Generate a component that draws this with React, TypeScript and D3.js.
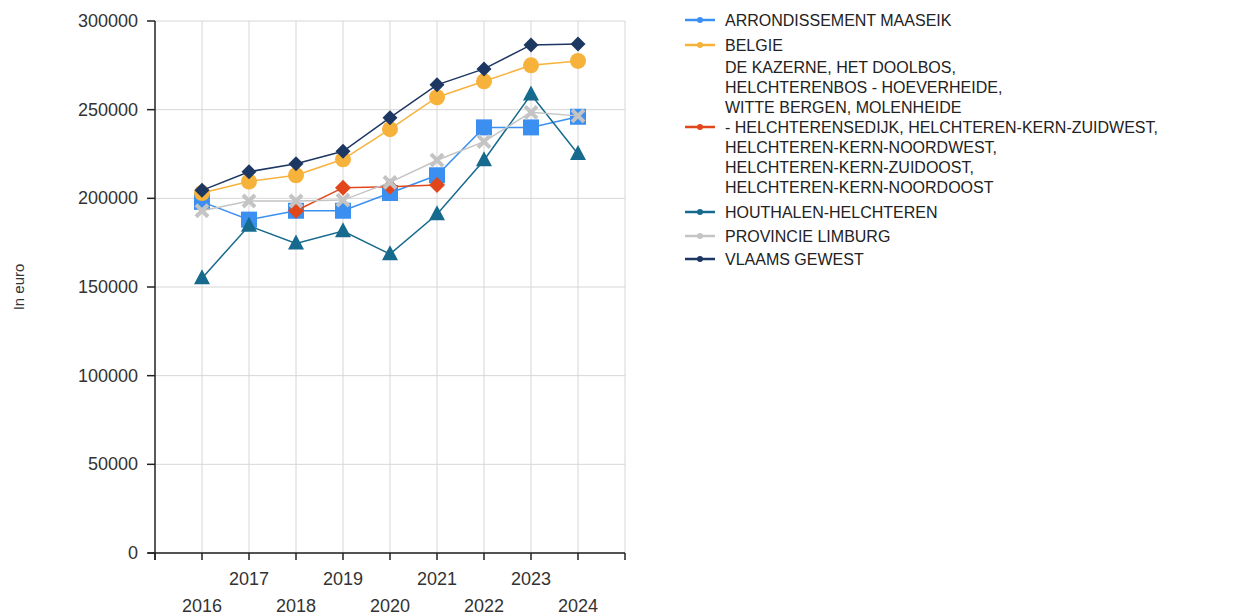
import React from "react";
import * as d3 from "d3";

const years = [2016, 2017, 2018, 2019, 2020, 2021, 2022, 2023, 2024];
const yTicks = [0, 50000, 100000, 150000, 200000, 250000, 300000];

const maaseik = [198000, 188000, 193000, 193000, 203000, 213000, 240000, 240000, 246000];
const belgie = [203000, 209500, 213000, 222000, 239000, 257000, 266000, 275000, 277500];
const wijken = [null, null, 193000, 206000, 206500, 207500, null, null, null];
const houthalen = [155000, 184500, 174500, 181500, 168500, 191000, 221500, 258500, 225000];
const limburg = [193000, 198500, 198500, 199000, 209000, 221500, 232000, 248500, 246500];
const vlaams = [204500, 215000, 219500, 226500, 245500, 264000, 273000, 286500, 287000];

const wijkenName = [
  "DE KAZERNE, HET DOOLBOS,",
  "HELCHTERENBOS - HOEVERHEIDE,",
  "WITTE BERGEN, MOLENHEIDE",
  "- HELCHTERENSEDIJK, HELCHTEREN-KERN-ZUIDWEST,",
  "HELCHTEREN-KERN-NOORDWEST,",
  "HELCHTEREN-KERN-ZUIDOOST,",
  "HELCHTEREN-KERN-NOORDOOST",
];

type Series = { name: string[]; values: (number | null)[]; color: string; marker: string; lineWidth: number };

const series: Series[] = [
  { name: ["ARRONDISSEMENT MAASEIK"], values: maaseik, color: "#3a8ff0", marker: "square", lineWidth: 1.5 },
  { name: ["BELGIE"], values: belgie, color: "#f7b23b", marker: "circle", lineWidth: 1.5 },
  { name: wijkenName, values: wijken, color: "#e2471b", marker: "diamond", lineWidth: 1.5 },
  { name: ["HOUTHALEN-HELCHTEREN"], values: houthalen, color: "#166a8e", marker: "triangle", lineWidth: 1.5 },
  { name: ["PROVINCIE LIMBURG"], values: limburg, color: "#c4c4c4", marker: "cross", lineWidth: 1.5 },
  { name: ["VLAAMS GEWEST"], values: vlaams, color: "#1d3763", marker: "diamondSmall", lineWidth: 1.5 },
];

const legendGaps = [25, 22, 25, 24, 23];

const FONT = "'Liberation Sans', Arial, sans-serif";

function Marker({ kind, x, y, color }: { kind: string; x: number; y: number; color: string }) {
  switch (kind) {
    case "square":
      return <rect x={x - 8} y={y - 8} width={16} height={16} fill={color} />;
    case "circle":
      return <circle cx={x} cy={y} r={8} fill={color} />;
    case "diamond":
      return <path d={`M${x},${y - 8}L${x + 8},${y}L${x},${y + 8}L${x - 8},${y}Z`} fill={color} />;
    case "diamondSmall":
      return <path d={`M${x},${y - 7.5}L${x + 7.5},${y}L${x},${y + 7.5}L${x - 7.5},${y}Z`} fill={color} />;
    case "triangle":
      return <path d={`M${x},${y - 9}L${x + 8},${y + 6}L${x - 8},${y + 6}Z`} fill={color} />;
    case "cross":
      return (
        <g stroke={color} strokeWidth={4}>
          <line x1={x - 6} y1={y - 6} x2={x + 6} y2={y + 6} />
          <line x1={x - 6} y1={y + 6} x2={x + 6} y2={y - 6} />
        </g>
      );
    default:
      return null;
  }
}

export default function App() {
  const width = 1236;
  const height = 616;
  const left = 155;
  const right = 625;
  const top = 21;
  const bottom = 553;

  const x = d3.scaleLinear().domain([2015, 2025]).range([left, right]);
  const y = d3.scaleLinear().domain([0, 300000]).range([bottom, top]);

  const allTicks = d3.range(2015, 2026);

  const line = d3
    .line<number | null>()
    .defined((d) => d !== null)
    .x((_, i) => x(years[i]))
    .y((d) => y(d as number));

  // legend layout
  const legendX = 685;
  const lh = 20;
  let cursor = 20;
  const legendItems = series.map((s, i) => {
    const n = s.name.length;
    const firstY = cursor;
    const centerIdx = Math.floor((n - 1) / 2);
    const item = { s, firstY, symY: firstY + centerIdx * lh };
    cursor = firstY + (n - 1) * lh + (legendGaps[i] ?? 24);
    return item;
  });

  return (
    <svg width={width} height={height} style={{ position: "absolute", left: 0, top: 0, background: "#fff" }} fontFamily={FONT}>
      {/* gridlines */}
      <g stroke="#d6d6d6" strokeWidth={1}>
        {yTicks.map((t) => (
          <line key={"h" + t} x1={left} x2={right} y1={y(t)} y2={y(t)} />
        ))}
        {allTicks.slice(1).map((t) => (
          <line key={"v" + t} x1={x(t)} x2={x(t)} y1={top} y2={bottom} />
        ))}
      </g>
      {/* axes */}
      <g stroke="#222" strokeWidth={1.5}>
        <line x1={left} x2={left} y1={top} y2={bottom + 7} />
        <line x1={left - 7} x2={right} y1={bottom} y2={bottom} />
        {yTicks.map((t) => (
          <line key={"yt" + t} x1={left - 8} x2={left} y1={y(t)} y2={y(t)} />
        ))}
        {allTicks.map((t) => (
          <line key={"xt" + t} x1={x(t)} x2={x(t)} y1={bottom} y2={bottom + 7} />
        ))}
      </g>
      <g fontSize={18} fill="#333">
        {yTicks.map((t) => (
          <text key={"yl" + t} x={left - 17} y={y(t)} textAnchor="end" dominantBaseline="central">
            {t}
          </text>
        ))}
        {years.map((yr, i) => (
          <text key={"xl" + yr} x={x(yr)} y={i % 2 === 1 ? 579 : 606} textAnchor="middle" dominantBaseline="central">
            {yr}
          </text>
        ))}
      </g>
      <text
        transform={`translate(18,${(top + bottom) / 2}) rotate(-90)`}
        textAnchor="middle"
        dominantBaseline="central"
        fontSize={15}
        fill="#333"
      >
        In euro
      </text>
      {/* series */}
      {series.map((s) => (
        <g key={s.name[0]}>
          <path d={line(s.values) || ""} fill="none" stroke={s.color} strokeWidth={s.lineWidth} />
          {s.values.map((v, i) =>
            v === null ? null : <Marker key={i} kind={s.marker} x={x(years[i])} y={y(v)} color={s.color} />
          )}
        </g>
      ))}
      {/* legend */}
      <g fontSize={16} fill="#222">
        {legendItems.map(({ s, firstY, symY }) => (
          <g key={"lg" + s.name[0]}>
            <line x1={legendX} x2={legendX + 30} y1={symY} y2={symY} stroke={s.color} strokeWidth={2.5} />
            <circle cx={legendX + 15} cy={symY} r={3} fill={s.color} />
            {s.name.map((ln, j) => (
              <text key={j} x={legendX + 40} y={firstY + j * lh} dominantBaseline="central">
                {ln}
              </text>
            ))}
          </g>
        ))}
      </g>
    </svg>
  );
}
